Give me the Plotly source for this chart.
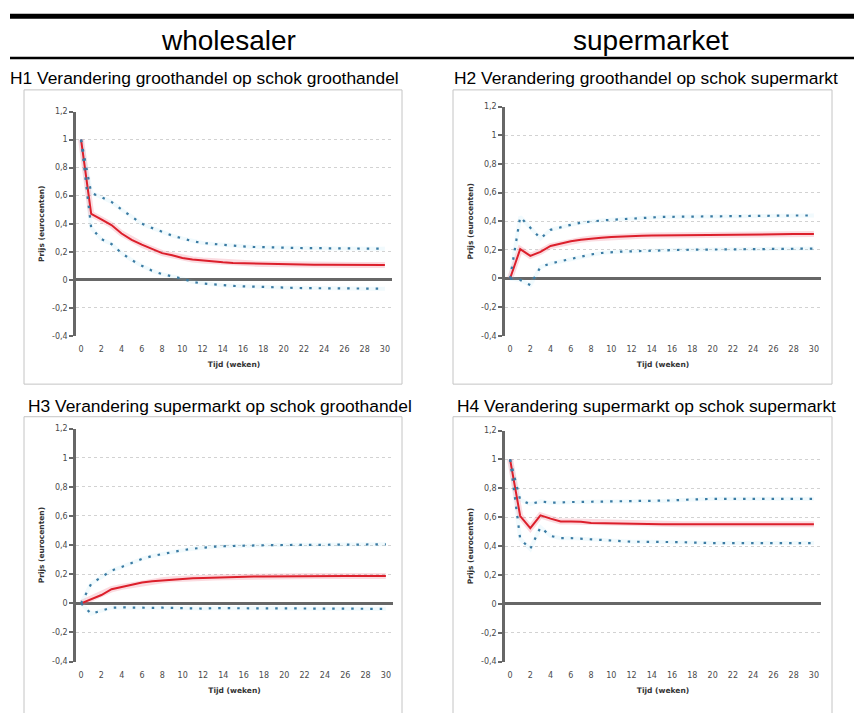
import plotly.graph_objects as go

# ---------------------------------------------------------------
# Impulse responses (price in eurocents) over 0..30 weeks
# ---------------------------------------------------------------
weeks = list(range(31))

x_tick_vals = list(range(0, 31, 2))
y_tick_vals = [-0.4, -0.2, 0.0, 0.2, 0.4, 0.6, 0.8, 1.0, 1.2]
y_tick_text = ["-0,4", "-0,2", "0", "0,2", "0,4", "0,6", "0,8", "1", "1,2"]

column_heads = ["wholesaler", "supermarket"]
panel_titles = [
    "H1 Verandering groothandel op schok groothandel",
    "H2 Verandering groothandel op schok supermarkt",
    "H3 Verandering supermarkt op schok groothandel",
    "H4 Verandering supermarkt op schok supermarkt",
]
x_title = "Tijd (weken)"
y_title = "Prijs (eurocenten)"

# H1: wholesale price after a wholesale shock
h1_mid = [1.00, 0.47, 0.43, 0.39, 0.33, 0.285, 0.25, 0.22, 0.19, 0.175, 0.155,
          0.145, 0.137, 0.131, 0.125, 0.12, 0.118, 0.115, 0.113, 0.111, 0.110,
          0.109, 0.108, 0.107, 0.107, 0.106, 0.106, 0.105, 0.105, 0.105, 0.105]
h1_hi = [1.00, 0.62, 0.59, 0.555, 0.50, 0.45, 0.40, 0.37, 0.34, 0.315, 0.295,
         0.275, 0.262, 0.255, 0.248, 0.242, 0.238, 0.234, 0.231, 0.229, 0.228,
         0.227, 0.226, 0.225, 0.224, 0.223, 0.223, 0.222, 0.222, 0.221, 0.221]
h1_lo = [1.00, 0.37, 0.29, 0.255, 0.19, 0.14, 0.10, 0.065, 0.04, 0.025, 0.008,
         -0.015, -0.027, -0.033, -0.04, -0.044, -0.047, -0.05, -0.053, -0.055, -0.057,
         -0.058, -0.06, -0.061, -0.062, -0.062, -0.063, -0.063, -0.064, -0.064, -0.064]

# H2: wholesale price after a supermarket shock
h2_mid = [0.0, 0.205, 0.158, 0.186, 0.227, 0.244, 0.26, 0.27, 0.279, 0.285, 0.29,
          0.294, 0.297, 0.299, 0.30, 0.301, 0.302, 0.303, 0.305, 0.306, 0.307,
          0.308, 0.308, 0.309, 0.309, 0.31, 0.31, 0.31, 0.31, 0.31, 0.31]
h2_hi = [0.0, 0.43, 0.355, 0.28, 0.34, 0.36, 0.375, 0.39, 0.40, 0.405, 0.41,
         0.415, 0.42, 0.425, 0.428, 0.43, 0.431, 0.432, 0.434, 0.434, 0.435,
         0.435, 0.436, 0.437, 0.44, 0.44, 0.44, 0.44, 0.44, 0.44, 0.44]
h2_lo = [0.0, -0.01, -0.046, 0.08, 0.105, 0.12, 0.14, 0.155, 0.168, 0.178, 0.185,
         0.188, 0.19, 0.193, 0.196, 0.198, 0.20, 0.20, 0.201, 0.202, 0.203,
         0.204, 0.205, 0.206, 0.207, 0.207, 0.208, 0.208, 0.209, 0.209, 0.209]

# H3: supermarket price after a wholesale shock
h3_mid = [0.0, 0.03, 0.057, 0.097, 0.113, 0.125, 0.143, 0.152, 0.158, 0.165, 0.17,
          0.172, 0.174, 0.177, 0.179, 0.181, 0.183, 0.184, 0.185, 0.186, 0.187,
          0.188, 0.188, 0.188, 0.188, 0.188, 0.188, 0.188, 0.188, 0.188, 0.188]
h3_hi = [0.0, 0.135, 0.18, 0.225, 0.25, 0.28, 0.305, 0.325, 0.34, 0.352, 0.365,
         0.375, 0.383, 0.389, 0.392, 0.395, 0.397, 0.398, 0.399, 0.40, 0.40,
         0.40, 0.40, 0.40, 0.401, 0.401, 0.402, 0.402, 0.403, 0.404, 0.405]
h3_lo = [0.0, -0.072, -0.05, -0.03, -0.028, -0.03, -0.034, -0.031, -0.03, -0.032, -0.033,
         -0.035, -0.036, -0.033, -0.032, -0.032, -0.033, -0.034, -0.034, -0.034, -0.035,
         -0.036, -0.037, -0.037, -0.037, -0.037, -0.037, -0.038, -0.038, -0.038, -0.038]

# H4: supermarket price after a supermarket shock
h4_mid = [1.0, 0.608, 0.524, 0.613, 0.59, 0.57, 0.57, 0.568, 0.56, 0.558, 0.556,
          0.554, 0.552, 0.551, 0.551, 0.551, 0.551, 0.551, 0.551, 0.551, 0.551,
          0.551, 0.551, 0.551, 0.551, 0.551, 0.551, 0.551, 0.551, 0.551, 0.551]
h4_hi = [1.0, 0.72, 0.69, 0.71, 0.70, 0.70, 0.705, 0.706, 0.707, 0.707, 0.708,
         0.708, 0.709, 0.709, 0.71, 0.712, 0.716, 0.72, 0.724, 0.727, 0.727,
         0.727, 0.727, 0.727, 0.727, 0.727, 0.727, 0.727, 0.727, 0.727, 0.727]
h4_lo = [1.0, 0.45, 0.38, 0.53, 0.47, 0.455, 0.455, 0.45, 0.445, 0.443, 0.437,
         0.433, 0.43, 0.43, 0.43, 0.43, 0.429, 0.427, 0.424, 0.421, 0.421,
         0.421, 0.421, 0.421, 0.421, 0.421, 0.421, 0.421, 0.421, 0.421, 0.421]

panels = [
    (h1_mid, h1_hi, h1_lo),
    (h2_mid, h2_hi, h2_lo),
    (h3_mid, h3_hi, h3_lo),
    (h4_mid, h4_hi, h4_lo),
]

# ---------------------------------------------------------------
# Page geometry (pixels) -> paper coordinates
# ---------------------------------------------------------------
W, H = 854, 713


def px(x):
    return x / W


def py(y):
    return 1 - y / H


# plot areas: (left, right, top, bottom) in pixels
plot_boxes = [
    (76, 392, 109, 336),
    (505, 821, 104, 336),
    (76, 393, 430, 666),
    (505, 821, 432, 666),
]
# outer frames around each chart
frames = [
    (24, 402, 87, 385),
    (453, 832, 87, 385),
    (24, 402, 418, 730),
    (453, 832, 418, 730),
]
title_pos = [(8, 75), (452, 75), (26, 407), (455, 407)]

RED = "#dc1f2b"
BLUE = "#3a7ba3"
AXIS = "#676767"
GRID = "#d2d2d2"
TICK_FONT = dict(family="DejaVu Sans", size=8, color="#4a4a4a")
TITLE_FONT = dict(family="DejaVu Sans", size=7.5, color="#333333")

fig = go.Figure()
layout = dict(
    width=W, height=H,
    margin=dict(l=0, r=0, t=0, b=0),
    paper_bgcolor="white", plot_bgcolor="white",
    showlegend=False,
)

shapes = []
annotations = []

for i, ((mid, hi, lo), (l, r, t, b)) in enumerate(zip(panels, plot_boxes)):
    n = "" if i == 0 else str(i + 1)
    xa, ya = "x" + n, "y" + n

    # soft glow under the lines
    fig.add_trace(go.Scatter(x=weeks, y=mid, xaxis=xa, yaxis=ya, mode="lines",
                             line=dict(color="rgba(240,110,130,0.25)", width=6),
                             hoverinfo="skip"))
    for band in (hi, lo):
        fig.add_trace(go.Scatter(x=weeks, y=band, xaxis=xa, yaxis=ya, mode="lines",
                                 line=dict(color="rgba(140,210,235,0.12)", width=4),
                                 hoverinfo="skip"))
    fig.add_trace(go.Scatter(x=weeks, y=mid, xaxis=xa, yaxis=ya, mode="lines",
                             line=dict(color=RED, width=2), name="respons"))
    for band in (hi, lo):
        fig.add_trace(go.Scatter(x=weeks, y=band, xaxis=xa, yaxis=ya, mode="lines",
                                 line=dict(color=BLUE, width=2.2, dash="2.5px,7px"),
                                 name="band"))

    layout["xaxis" + n] = dict(
        domain=[px(l), px(r)], anchor=ya,
        range=[-0.5, 30.7],
        tickvals=x_tick_vals, ticktext=[str(v) for v in x_tick_vals],
        showgrid=False, zeroline=False, showline=False,
        ticks="outside", ticklen=6, tickcolor="rgba(0,0,0,0)",
        tickfont=TICK_FONT,
        title=dict(text="<b>" + x_title + "</b>", font=TITLE_FONT, standoff=8),
        fixedrange=True,
    )
    layout["yaxis" + n] = dict(
        domain=[py(b), py(t)], anchor=xa,
        range=[-0.4, 1.2],
        tickvals=y_tick_vals, ticktext=y_tick_text,
        showgrid=True, gridcolor=GRID, griddash="dot", gridwidth=1,
        zeroline=True, zerolinecolor=AXIS, zerolinewidth=2.5,
        showline=True, linecolor=AXIS, linewidth=2.5,
        ticks="outside", ticklen=4, tickwidth=1.5, tickcolor=AXIS,
        tickfont=TICK_FONT,
        title=dict(text="<b>" + y_title + "</b>", font=TITLE_FONT, standoff=7),
        fixedrange=True,
    )

    fl, fr, ft, fb = frames[i]
    shapes.append(dict(type="rect", xref="paper", yref="paper",
                       x0=px(fl), x1=px(fr), y0=py(fb), y1=py(ft),
                       line=dict(color="#c4c4c4", width=1), layer="below"))

    tx, ty = title_pos[i]
    annotations.append(dict(text=panel_titles[i], xref="paper", yref="paper",
                            x=px(tx), y=py(ty), xanchor="left", yanchor="middle",
                            showarrow=False,
                            font=dict(family="Liberation Sans", size=17.4, color="black")))

# heading rules
shapes.append(dict(type="rect", xref="paper", yref="paper",
                   x0=px(10), x1=px(854), y0=py(15), y1=py(10),
                   line=dict(width=0), fillcolor="black"))
shapes.append(dict(type="rect", xref="paper", yref="paper",
                   x0=px(10), x1=px(854), y0=py(56), y1=py(53.5),
                   line=dict(width=0), fillcolor="black"))

for label, cx in zip(column_heads, (228, 651)):
    annotations.append(dict(text=label, xref="paper", yref="paper",
                            x=px(cx), y=py(37), xanchor="center", yanchor="middle",
                            showarrow=False,
                            font=dict(family="Liberation Sans", size=28, color="black")))

layout["shapes"] = shapes
layout["annotations"] = annotations
fig.update_layout(**layout)

fig.write_html("out.html")
